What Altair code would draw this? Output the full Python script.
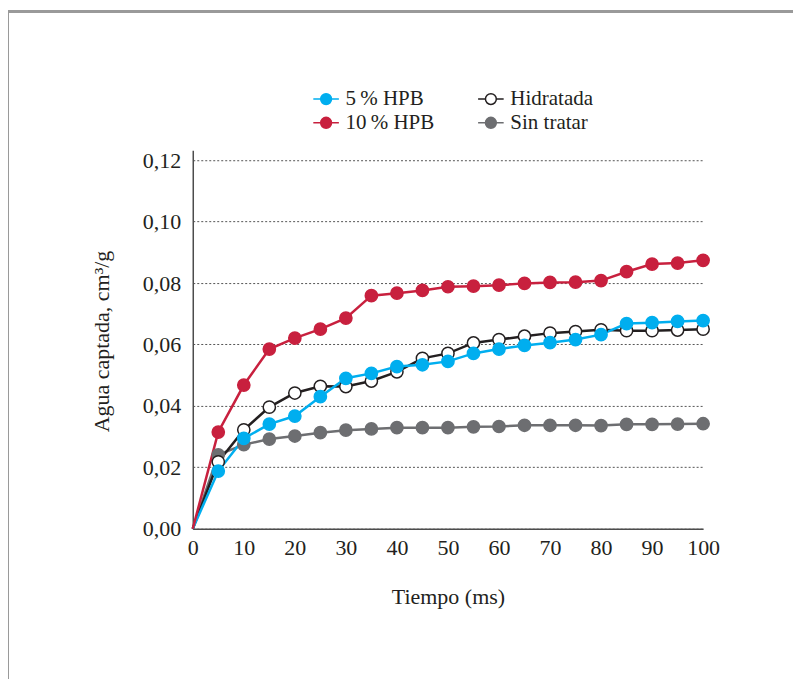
import altair as alt
import pandas as pd

tiempo = [0, 5, 10, 15, 20, 25, 30, 35, 40, 45, 50, 55, 60, 65, 70, 75, 80, 85, 90, 95, 100]
hpb5 = [0, 0.0188, 0.0294, 0.0341, 0.0367, 0.0430, 0.0490, 0.0506, 0.0528, 0.0534, 0.0545,
        0.0571, 0.0585, 0.0597, 0.0606, 0.0616, 0.0632, 0.0668, 0.0671, 0.0675, 0.0678]
hpb10 = [0, 0.0315, 0.0468, 0.0585, 0.0621, 0.0650, 0.0686, 0.0759, 0.0767, 0.0776, 0.0788,
         0.0790, 0.0793, 0.0799, 0.0802, 0.0803, 0.0808, 0.0837, 0.0862, 0.0865, 0.0874]
hidratada = [0, 0.0218, 0.0322, 0.0396, 0.0442, 0.0464, 0.0463, 0.0481, 0.0511, 0.0555, 0.0571,
             0.0605, 0.0616, 0.0627, 0.0637, 0.0642, 0.0648, 0.0645, 0.0645, 0.0647, 0.0650]
sin_tratar = [0, 0.0241, 0.0274, 0.0292, 0.0302, 0.0313, 0.0321, 0.0325, 0.0329, 0.0329, 0.0329,
              0.0332, 0.0333, 0.0337, 0.0337, 0.0337, 0.0336, 0.0340, 0.0340, 0.0341, 0.0342]

series_names = ["Sin tratar", "Hidratada", "5\u2009% HPB", "10\u2009% HPB"]
series_values = [sin_tratar, hidratada, hpb5, hpb10]

legend_order = ["5\u2009% HPB", "10\u2009% HPB", "Hidratada", "Sin tratar"]
stroke_colors = ["#00aeef", "#c8203e", "#231f20", "#6d6e71"]
fill_colors = ["#00aeef", "#c8203e", "#ffffff", "#6d6e71"]

rows = []
for name, vals in zip(series_names, series_values):
    for t, v in zip(tiempo, vals):
        rows.append({"serie": name, "t": t, "v": v, "k": series_names.index(name)})
df = pd.DataFrame(rows)

FONT = "Liberation Serif"
TXT = "#231f20"
FS = 22

legend_path = ("M-1.6,0L-0.68,0M0.68,0L1.6,0"
               "M-0.68,0A0.68,0.68,0,1,1,0.68,0A0.68,0.68,0,1,1,-0.68,0Z")

leg = alt.Legend(
    title=None, orient="none", legendX=123, legendY=-62, columns=2, direction="vertical",
    symbolType=legend_path, symbolSize=256, symbolStrokeWidth=1.5,
    labelFont=FONT, labelFontSize=21, labelColor=TXT, labelOffset=9,
    columnPadding=40, rowPadding=2,
)

stroke_scale = alt.Scale(domain=legend_order, range=stroke_colors)
fill_scale = alt.Scale(domain=legend_order, range=fill_colors)

x_enc = alt.X("t:Q", scale=alt.Scale(domain=[0, 100], nice=False),
              axis=alt.Axis(values=list(range(0, 101, 10)), title="Tiempo (ms)", grid=False,
                            ticks=False, labelPadding=9, labelBaseline="top", labelFlush=False,
                            titleY=75, titleBaseline="alphabetic"))
y_enc = alt.Y("v:Q", scale=alt.Scale(domain=[0, 0.12325], nice=False),
              axis=alt.Axis(values=[0, 0.02, 0.04, 0.06, 0.08, 0.10, 0.12],
                            labelExpr="replace(format(datum.value, '.2f'), '.', ',')",
                            title="Agua captada, cm\u00b3/g", grid=True,
                            gridDash=[2, 2], gridColor="#555555", gridWidth=1,
                            ticks=False, labelPadding=12, labelFlush=False,
                            titleX=-91, titleY=191, titleBaseline="middle",
                            titleAlign="center", titleAngle=-90))

base = alt.Chart(df)

lines = base.mark_line(strokeWidth=2.5).encode(
    x=x_enc, y=y_enc,
    stroke=alt.Stroke("serie:N", scale=stroke_scale, legend=leg),
    order=alt.Order("t:Q"),
    detail="k:N",
)

points = base.transform_filter("datum.t > 0").mark_point(
    filled=False, size=150, strokeWidth=1.5, opacity=1
).encode(
    x=x_enc, y=y_enc,
    stroke=alt.Stroke("serie:N", scale=stroke_scale, legend=leg),
    fill=alt.Fill("serie:N", scale=fill_scale, legend=leg),
)

frame_left = alt.Chart(df).mark_rule(color="#9a9a9a", strokeWidth=2).encode(
    x=alt.value(-185), y=alt.value(-139), y2=alt.value(700))
frame_top = alt.Chart(df).mark_rule(color="#9a9a9a", strokeWidth=2).encode(
    x=alt.value(-185), x2=alt.value(700), y=alt.value(-139))

chart = alt.layer(frame_left, frame_top, lines, points).properties(
    width=511, height=379,
    autosize=alt.AutoSizeParams(type="none"),
    padding={"left": 185, "top": 142, "right": 90, "bottom": 150},
).configure_view(stroke=None).configure_axis(
    labelFont=FONT, labelFontSize=FS, labelColor=TXT,
    titleFont=FONT, titleFontSize=FS, titleColor=TXT, titleFontWeight="normal",
    domainColor="#4d4d4d", domainWidth=1.5,
)

chart.save("out.html", embed_options={"renderer": "svg", "actions": False})
